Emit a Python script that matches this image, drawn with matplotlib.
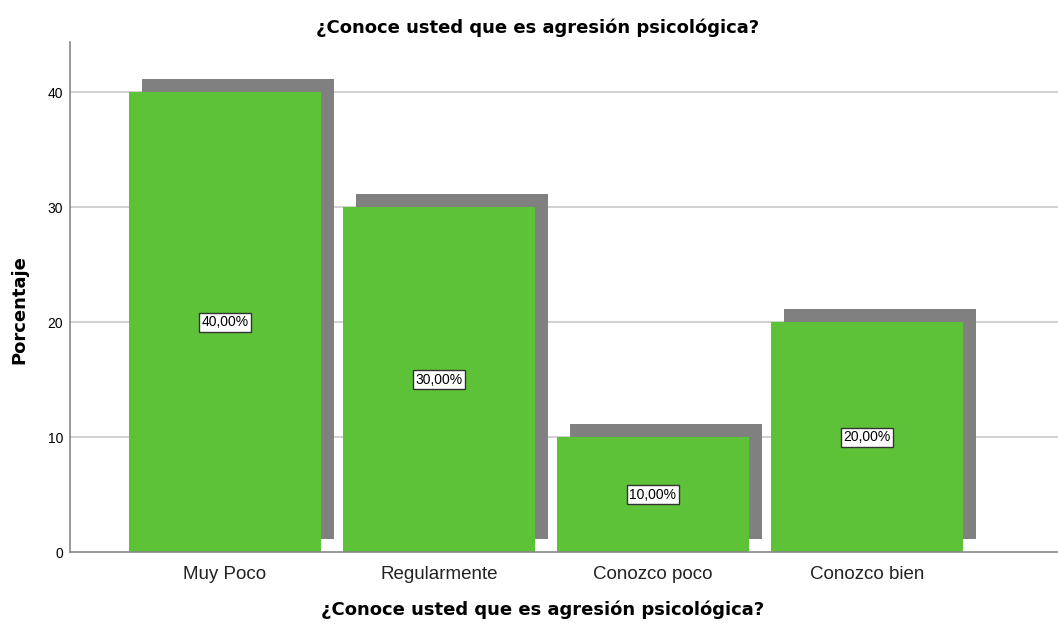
import numpy as np
import matplotlib.pyplot as plt

plt.rcParams['font.family'] = ['Liberation Sans', 'DejaVu Sans']

# Data
categorias = ['Muy Poco', 'Regularmente', 'Conozco poco', 'Conozco bien']
porcentajes = [40.0, 30.0, 10.0, 20.0]
etiquetas = ['40,00%', '30,00%', '10,00%', '20,00%']
titulo = '¿Conoce usted que es agresión psicológica?'

W, H = 1058, 625
fig = plt.figure(figsize=(W / 100, H / 100), dpi=100)
ax = fig.add_axes([70 / W, 73 / H, 1 - 70 / W, (552 - 42) / H])

x = np.arange(len(categorias))
ancho = 0.897
dx = 0.061   # shadow offset (x, in category units)
dy = 1.13    # shadow offset (y, in percent units)

# gridlines
for t in [10, 20, 30, 40]:
    ax.axhline(t, color='#c8c8c8', lw=1.2, zorder=0)

# shadows
ax.bar(x + dx, porcentajes, width=ancho, bottom=dy, color='#808080', zorder=1)
# bars
ax.bar(x, porcentajes, width=ancho, color='#5ec238', zorder=2)

for xi, v, lab in zip(x, porcentajes, etiquetas):
    ax.text(xi, v / 2, lab, ha='center', va='center', fontsize=10, zorder=3,
            bbox=dict(boxstyle='square,pad=0.18', fc='white', ec='#333333', lw=1))

ax.set_xlim(-0.724, 3.893)
ax.set_ylim(0, 44.35)
ax.set_yticks([0, 10, 20, 30, 40])
ax.set_xticks(x)
ax.set_xticklabels(categorias, fontsize=13.5, color='#222222')
ax.tick_params(axis='x', length=0, pad=10)
ax.tick_params(axis='y', length=0, pad=5, labelsize=10)

for s in ['top', 'right']:
    ax.spines[s].set_visible(False)
for s in ['left', 'bottom']:
    ax.spines[s].set_color('#888888')
    ax.spines[s].set_linewidth(1.2)

fuente_titulo = dict(fontsize=13, fontweight='bold', family='DejaVu Sans')
fig.text(538 / W, 1 - 28 / H, titulo, ha='center', va='center', **fuente_titulo)
fig.text(543 / W, 1 - 610 / H, titulo, ha='center', va='center', **fuente_titulo)
fig.text(19 / W, 1 - 310 / H, 'Porcentaje', ha='center', va='center',
         rotation=90, **fuente_titulo)

fig.savefig('out.png', dpi=100)
